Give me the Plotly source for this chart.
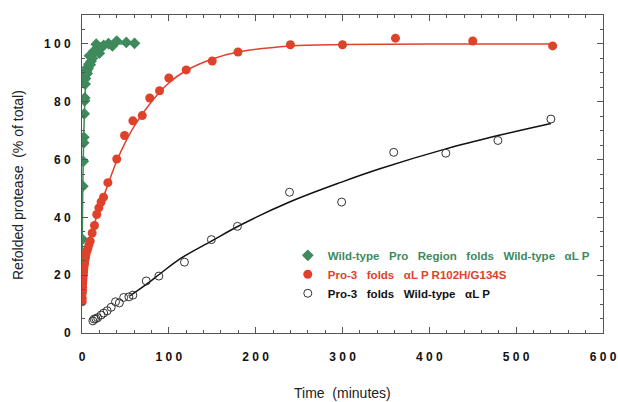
import plotly.graph_objects as go

# ---------------- data ----------------
# Wild-type Pro Region folds Wild-type aLP (green diamonds)
wt_pro_t = [0.5, 1.0, 1.5, 2.0, 2.2, 2.6, 3.0, 3.2, 3.6, 4.0, 4.5, 5.0, 5.5, 6.0, 6.6, 7.0,
            8.0, 8.6, 9.5, 10.5, 12.0, 12.5, 14.0, 16.4, 18.0, 20.0, 22.0, 25.0, 30.5, 35.0,
            40.0, 51.0, 60.5]
wt_pro_y = [32.4, 50.8, 59.4, 65.8, 67.7, 75.8, 80.3, 81.3, 86.1, 88.0, 89.5, 90.5, 91.0, 89.8,
            92.0, 91.5, 93.0, 95.9, 92.8, 94.0, 95.0, 96.5, 97.6, 99.9, 98.6, 96.8, 98.7, 99.5,
            100.1, 99.3, 101.0, 100.5, 100.2]
wt_pro_fit_t = [0.0, 0.3, 0.6, 1.0, 1.5, 2.0, 3.0, 4.0, 5.0, 7.0, 10.0, 15.0, 20.0, 30.0, 45.0, 62.0]
wt_pro_fit_y = [12.0, 30.0, 42.0, 52.0, 61.0, 68.0, 78.0, 84.5, 88.5, 93.0, 96.0, 98.5, 99.5, 100.0, 100.0, 100.0]

# Pro-3 folds aLP R102H/G134S (red filled circles)
mut_t = [0.2, 0.3, 0.4, 0.5, 0.7, 0.8, 1.0, 1.2, 1.4, 1.7, 2.0, 2.3, 2.7, 3.0, 3.5, 4.0, 4.6,
         5.5, 6.7, 8.0, 9.5, 11.7, 14.4, 17.0, 19.4, 22.0, 24.8, 29.8, 40.0, 49.0, 58.6, 69.4,
         78.0, 89.3, 100.0, 120.0, 150.0, 179.6, 240.0, 300.0, 361.0, 450.0, 542.0]
mut_y = [10.8, 12.0, 13.8, 14.8, 15.8, 17.0, 18.0, 19.0, 20.0, 21.0, 22.0, 22.9, 23.8, 24.6,
         25.5, 26.3, 27.2, 28.3, 29.2, 30.5, 31.8, 34.6, 37.2, 41.0, 43.3, 45.3, 47.0, 52.0,
         60.2, 68.3, 73.4, 75.2, 81.3, 83.8, 88.2, 91.0, 94.1, 97.2, 99.7, 99.7, 102.0, 101.0, 99.3]
mut_fit_t = [0.0, 2.0, 5.0, 10.0, 15.0, 20.0, 30.0, 40.0, 50.0, 60.0, 80.0, 100.0, 120.0,
             150.0, 180.0, 240.0, 300.0, 400.0, 542.0]
mut_fit_y = [10.0, 19.0, 26.0, 33.0, 38.5, 43.0, 51.5, 59.5, 66.0, 71.5, 80.0, 86.5, 90.8,
             94.8, 97.2, 99.3, 99.8, 100.0, 100.0]

# Pro-3 folds Wild-type aLP (black open circles)
wt_t = [12.5, 14.0, 16.0, 18.0, 22.0, 25.0, 29.0, 33.6, 38.6, 43.0, 48.0, 54.0, 58.6, 74.0,
        88.5, 118.0, 149.0, 179.0, 239.0, 299.0, 359.0, 419.0, 479.0, 540.0]
wt_y = [4.2, 4.8, 5.0, 5.3, 6.2, 6.9, 7.7, 8.9, 10.8, 10.4, 12.3, 12.5, 13.1, 18.0,
        19.7, 24.5, 32.3, 36.9, 48.7, 45.3, 62.5, 62.2, 66.6, 74.0]
wt_fit_t = [55.0, 74.0, 90.0, 112.0, 149.0, 181.5, 239.0, 299.0, 343.0, 419.0, 479.0, 540.0]
wt_fit_y = [12.8, 16.8, 20.5, 25.5, 31.8, 37.2, 45.3, 52.2, 56.8, 63.7, 68.3, 72.5]

x_tickvals = [0, 100, 200, 300, 400, 500, 600]
x_ticktext = ["0", "1 0 0", "2 0 0", "3 0 0", "4 0 0", "5 0 0", "6 0 0"]
y_tickvals = [0, 20, 40, 60, 80, 100]
y_ticktext = ["0", "2 0", "4 0", "6 0", "8 0", "1 0 0"]

GREEN = "#3e8a5c"
RED = "#e0412a"
BLACK = "#111111"
SP = "&nbsp;&nbsp; "

fig = go.Figure()

# fit curves
fig.add_trace(go.Scatter(x=wt_pro_fit_t, y=wt_pro_fit_y, mode="lines", line=dict(color=GREEN, width=1.5, shape="spline"), showlegend=False, hoverinfo="skip"))
fig.add_trace(go.Scatter(x=mut_fit_t, y=mut_fit_y, mode="lines", line=dict(color=RED, width=1.5, shape="spline"), showlegend=False, hoverinfo="skip"))
fig.add_trace(go.Scatter(x=wt_fit_t, y=wt_fit_y, mode="lines", line=dict(color=BLACK, width=1.5, shape="spline"), showlegend=False, hoverinfo="skip"))

# data points
fig.add_trace(go.Scatter(
    x=wt_pro_t, y=wt_pro_y, mode="markers",
    marker=dict(symbol="diamond", size=9, color=GREEN),
    name="<b><span style='color:%s'>Wild-type%sPro%sRegion%sfolds%sWild-type%sαL P</span></b>" % (GREEN, SP, SP, SP, SP, SP)))
fig.add_trace(go.Scatter(
    x=mut_t, y=mut_y, mode="markers",
    marker=dict(symbol="circle", size=9, color=RED),
    name="<b><span style='color:%s'>Pro-3%sfolds%sαL P R102H/G134S</span></b>" % (RED, SP, SP)))
fig.add_trace(go.Scatter(
    x=wt_t, y=wt_y, mode="markers",
    marker=dict(symbol="circle-open", size=8, color="#333333", line=dict(width=1)),
    name="<b><span style='color:%s'>Pro-3%sfolds%sWild-type%sαL P</span></b>" % (BLACK, SP, SP, SP)))

axis_common = dict(
    showgrid=False, zeroline=False, showline=True, linecolor="#555555", linewidth=1,
    mirror="ticks", ticks="inside", tickcolor="#555555", ticklen=6, tickwidth=1,
    tickmode="array", automargin=False,
    tickfont=dict(family="Liberation Sans, Arial, sans-serif", size=12, color="#111111", weight="bold"),
)

fig.update_layout(
    width=618, height=402,
    margin=dict(l=82, r=15, t=15, b=69),
    paper_bgcolor="white", plot_bgcolor="white",
    font=dict(family="Liberation Sans, Arial, sans-serif", color="#222222"),
    xaxis=dict(range=[0, 600], tickvals=x_tickvals, ticktext=x_ticktext, ticklabelstandoff=13,
               minor=dict(tickmode="linear", tick0=0, dtick=20, ticks="inside", ticklen=3, tickcolor="#555555"),
               **axis_common),
    yaxis=dict(range=[0, 110], tickvals=y_tickvals, ticktext=y_ticktext, ticklabelstandoff=8,
               minor=dict(tickmode="linear", tick0=0, dtick=5, ticks="inside", ticklen=3, tickcolor="#555555"),
               **axis_common),
    legend=dict(x=0.395, y=0.29, xanchor="left", yanchor="top", bgcolor="rgba(0,0,0,0)",
                font=dict(family="Liberation Sans, Arial, sans-serif", size=11.5), tracegroupgap=0),
    showlegend=True,
    annotations=[
        dict(text="Time  (minutes)", xref="paper", yref="paper", x=0.5, y=0, yshift=-60,
             showarrow=False, font=dict(size=14, color="#222222"), yanchor="middle"),
        dict(text="Refolded protease  (% of total)", xref="paper", yref="paper", x=0, y=0.5,
             xshift=-64, yshift=-11, textangle=-90, showarrow=False,
             font=dict(size=14, color="#222222"), xanchor="center", yanchor="middle"),
    ],
)

fig.write_html("out.html", config={"displayModeBar": False},
               post_script="document.body.style.margin='0';document.body.style.overflow='hidden';")
